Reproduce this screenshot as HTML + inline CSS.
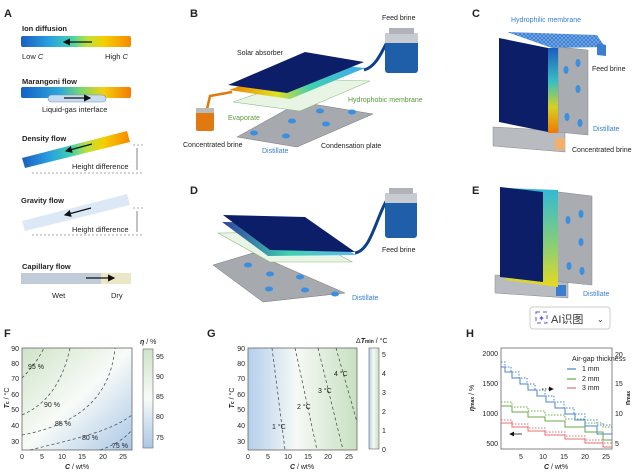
<!DOCTYPE html>
<html><head><meta charset="utf-8"><style>
body{margin:0;background:#fff;width:640px;height:476px;overflow:hidden}
svg{display:block;font-family:"Liberation Sans",Arial,sans-serif}
.b{font-weight:bold}
</style></head><body>
<svg width="640" height="476" viewBox="0 0 640 476" xmlns="http://www.w3.org/2000/svg">
<defs>
<linearGradient id="rb" x1="0" x2="1"><stop offset="0" stop-color="#1a5fc0"/><stop offset=".25" stop-color="#2a9ee0"/><stop offset=".45" stop-color="#3dd0b0"/><stop offset=".6" stop-color="#b8e040"/><stop offset=".75" stop-color="#f5d000"/><stop offset="1" stop-color="#f58a00"/></linearGradient>
<linearGradient id="rb2" x1="0" x2="1"><stop offset="0" stop-color="#1560c8"/><stop offset=".35" stop-color="#2ca8d8"/><stop offset=".55" stop-color="#7ad86a"/><stop offset=".75" stop-color="#f2d010"/><stop offset="1" stop-color="#f57a00"/></linearGradient>
<linearGradient id="vg" x1="0" y1="0" x2="0" y2="1"><stop offset="0" stop-color="#1c5cc0"/><stop offset=".4" stop-color="#39c0c0"/><stop offset=".7" stop-color="#d8d020"/><stop offset="1" stop-color="#f07800"/></linearGradient>
<linearGradient id="vg2" x1="0" y1="0" x2="0" y2="1"><stop offset="0" stop-color="#30b8d8"/><stop offset=".6" stop-color="#8cd070"/><stop offset="1" stop-color="#e8d820"/></linearGradient>
<linearGradient id="fF" x1="0" y1="0" x2="1" y2="1"><stop offset="0" stop-color="#cfe3c8"/><stop offset=".5" stop-color="#f8fbf8"/><stop offset="1" stop-color="#aac7e6"/></linearGradient>
<linearGradient id="fG" x1="0" y1="0" x2="1" y2="0"><stop offset="0" stop-color="#b4cfec"/><stop offset=".45" stop-color="#f6f9f6"/><stop offset="1" stop-color="#c8e0c0"/></linearGradient>
<linearGradient id="cbF" x1="0" y1="0" x2="0" y2="1"><stop offset="0" stop-color="#cfe3c8"/><stop offset=".5" stop-color="#f8fbf8"/><stop offset="1" stop-color="#aac7e6"/></linearGradient>
<linearGradient id="pl" x1="0" y1="0" x2="1" y2="0"><stop offset="0" stop-color="#3040a0"/><stop offset=".5" stop-color="#40d0b0"/><stop offset="1" stop-color="#60b8f0"/></linearGradient>
<linearGradient id="plB" x1="0" y1="0" x2="1" y2="0"><stop offset="0" stop-color="#f08000"/><stop offset=".35" stop-color="#e0e020"/><stop offset=".6" stop-color="#40d0b0"/><stop offset="1" stop-color="#40a8f0"/></linearGradient>
<pattern id="mesh" width="4" height="4" patternUnits="userSpaceOnUse"><rect width="4" height="4" fill="#3b7ed0"/><path d="M0 0L4 4M4 0L0 4" stroke="#8ab8ee" stroke-width=".6"/></pattern>
<marker id="ah" markerWidth="6" markerHeight="6" refX="5" refY="3" orient="auto"><path d="M0 0L6 3L0 6z" fill="#111"/></marker>
</defs>

<!-- Panel A -->
<g font-size="7.5" fill="#222">
<text x="4" y="17" class="b" font-size="11">A</text>
<text x="22" y="31" class="b">Ion diffusion</text>
<rect x="21" y="36" width="110" height="11" rx="2" fill="url(#rb)"/>
<line x1="92" y1="42" x2="64" y2="42" stroke="#111" stroke-width="1.2" marker-end="url(#ah)"/>
<text x="22" y="59">Low <tspan font-style="italic">C</tspan></text><text x="105" y="59">High <tspan font-style="italic">C</tspan></text>
<text x="22" y="84" class="b">Marangoni flow</text>
<rect x="21" y="87" width="110" height="11" rx="2" fill="url(#rb2)"/>
<rect x="48" y="95" width="58" height="7" rx="3.5" fill="#c8dcf0" stroke="#6c90c0" stroke-width=".6"/>
<line x1="64" y1="98" x2="90" y2="98" stroke="#111" stroke-width="1.2" marker-end="url(#ah)"/>
<text x="42" y="112">Liquid-gas interface</text>
<text x="22" y="141" class="b">Density flow</text>
<polygon points="22,158 127,131 130,142 25,168" fill="url(#rb)"/>
<line x1="92" y1="144" x2="66" y2="151" stroke="#111" stroke-width="1.2" marker-end="url(#ah)"/>
<line x1="32" y1="173" x2="143" y2="173" stroke="#555" stroke-width=".6" stroke-dasharray="2,2"/>
<line x1="133" y1="145" x2="143" y2="145" stroke="#555" stroke-width=".6" stroke-dasharray="2,2"/>
<line x1="137" y1="148" x2="137" y2="170" stroke="#333" stroke-width=".6"/>
<text x="72" y="169">Height difference</text>
<text x="21" y="203" class="b">Gravity flow</text>
<polygon points="22,221 127,194 130,205 25,231" fill="#dde8f6"/>
<line x1="91" y1="208" x2="65" y2="215" stroke="#111" stroke-width="1.2" marker-end="url(#ah)"/>
<line x1="32" y1="235" x2="143" y2="235" stroke="#555" stroke-width=".6" stroke-dasharray="2,2"/>
<line x1="133" y1="208" x2="143" y2="208" stroke="#555" stroke-width=".6" stroke-dasharray="2,2"/>
<line x1="137" y1="211" x2="137" y2="232" stroke="#333" stroke-width=".6"/>
<text x="72" y="232">Height difference</text>
<text x="22" y="269" class="b">Capillary flow</text>
<rect x="21" y="273" width="80" height="11" fill="#c2ccd8"/>
<rect x="101" y="273" width="30" height="11" fill="#ece6c8"/>
<line x1="86" y1="278" x2="114" y2="278" stroke="#111" stroke-width="1.2" marker-end="url(#ah)"/>
<text x="52" y="298">Wet</text><text x="111" y="298">Dry</text>
</g>

<!-- Panel B -->
<g font-size="7" fill="#222">
<text x="190" y="17" class="b" font-size="11">B</text>
<polygon points="237,137 300,102 373,114 297,147" fill="#a6a9ae" stroke="#777" stroke-width=".5"/>
<g fill="#3a8fe0"><ellipse cx="254" cy="133" rx="4" ry="2.5"/><ellipse cx="286" cy="136" rx="4" ry="2.5"/><ellipse cx="292" cy="121" rx="4" ry="2.5"/><ellipse cx="326" cy="124" rx="4" ry="2.5"/><ellipse cx="320" cy="111" rx="4" ry="2.5"/><ellipse cx="352" cy="112" rx="4" ry="2.5"/></g>
<polygon points="233,102 300,79 370,81 300,111" fill="#e8f4e4" stroke="#8fba86" stroke-width=".6"/>
<polygon points="229,90 305,62 365,68 290,99" fill="url(#plB)"/>
<polygon points="228,85 305,52 364,62 287,93" fill="#0c1e68"/>
<path d="M364 70 C380 66 385 40 395 30" stroke="#0d3f8c" stroke-width="3" fill="none"/>
<path d="M232 92 L210 96 L205 118" stroke="#e07a10" stroke-width="2.5" fill="none"/>
<rect x="385" y="38" width="33" height="35" rx="3" fill="#1f5ea8"/><rect x="385" y="33" width="33" height="10" fill="#c8ccd2"/><rect x="389" y="28" width="25" height="6" fill="#b0b4ba"/>
<rect x="196" y="110" width="18" height="21" rx="2" fill="#e07a10"/><rect x="196" y="108" width="18" height="5" fill="#bbb"/>
<text x="237" y="55">Solar absorber</text>
<text x="382" y="20">Feed brine</text>
<text x="348" y="102" fill="#5a9a3a">Hydrophobic membrane</text>
<text x="228" y="120" fill="#5a9a3a">Evaporate</text>
<text x="183" y="147">Concentrated brine</text>
<text x="262" y="153" fill="#3a80d0">Distillate</text>
<text x="321" y="148">Condensation plate</text>
</g>

<!-- Panel C -->
<g font-size="7" fill="#222">
<text x="472" y="17" class="b" font-size="11">C</text>
<polygon points="493,127 565,131 565,152 493,146" fill="#b8bbc0" stroke="#888" stroke-width=".5"/>
<rect x="555" y="138" width="10" height="12" fill="#f0b070"/>
<polygon points="507,32 597,35 605,47 552,48" fill="url(#mesh)"/>
<polygon points="597,43 606,45 606,56 597,55" fill="#3b7ed0"/>
<polygon points="558,47 588,50 588,135 558,132" fill="#a9acb1" stroke="#888" stroke-width=".5"/>
<g fill="#3a8fe0"><ellipse cx="566" cy="70" rx="2.5" ry="4"/><ellipse cx="578" cy="63" rx="2.5" ry="4"/><ellipse cx="578" cy="89" rx="2.5" ry="4"/><ellipse cx="567" cy="117" rx="2.5" ry="4"/><ellipse cx="580" cy="123" rx="2.5" ry="4"/></g>
<rect x="548" y="48" width="10" height="85" fill="url(#vg)"/>
<polygon points="499,38 548,48 548,132 499,122" fill="#0c1e68"/>
<text x="511" y="22" fill="#3a80d0">Hydrophilic membrane</text>
<text x="592" y="71">Feed brine</text>
<text x="593" y="131" fill="#3a80d0">Distillate</text>
<text x="572" y="152">Concentrated brine</text>
</g>

<!-- Panel D -->
<g font-size="7" fill="#222">
<text x="190" y="194" class="b" font-size="11">D</text>
<polygon points="213,265 253,253 345,293 263,302" fill="#a6a9ae" stroke="#777" stroke-width=".5"/>
<g fill="#3a8fe0"><ellipse cx="248" cy="265" rx="4" ry="2.5"/><ellipse cx="270" cy="274" rx="4" ry="2.5"/><ellipse cx="300" cy="277" rx="4" ry="2.5"/><ellipse cx="269" cy="289" rx="4" ry="2.5"/><ellipse cx="305" cy="290" rx="4" ry="2.5"/><ellipse cx="335" cy="294" rx="4" ry="2.5"/></g>
<polygon points="218,233 298,232 352,262 270,262" fill="#e8f4e4" stroke="#8fba86" stroke-width=".6"/>
<polygon points="222,222 302,223 356,255 268,256" fill="url(#pl)"/>
<polygon points="223,215 305,217 355,252 270,250" fill="#0c1e68"/>
<path d="M355 253 C372 250 376 215 390 195" stroke="#0d3f8c" stroke-width="3" fill="none"/>
<rect x="385" y="198" width="32" height="40" rx="3" fill="#1f5ea8"/><rect x="385" y="193" width="32" height="10" fill="#c8ccd2"/><rect x="389" y="188" width="24" height="6" fill="#b0b4ba"/>
<text x="382" y="252">Feed brine</text>
<text x="352" y="300" fill="#3a80d0">Distillate</text>
</g>

<!-- Panel E -->
<g font-size="7" fill="#222">
<text x="472" y="194" class="b" font-size="11">E</text>
<polygon points="495,275 568,280 568,298 495,293" fill="#b8bbc0" stroke="#888" stroke-width=".5"/>
<rect x="556" y="285" width="10" height="11" fill="#3b7ed0"/>
<polygon points="542,190 592,196 592,285 542,280" fill="#a9acb1" stroke="#888" stroke-width=".5"/>
<g fill="#3a8fe0"><ellipse cx="568" cy="220" rx="2.5" ry="4"/><ellipse cx="581" cy="214" rx="2.5" ry="4"/><ellipse cx="581" cy="242" rx="2.5" ry="4"/><ellipse cx="569" cy="266" rx="2.5" ry="4"/><ellipse cx="582" cy="271" rx="2.5" ry="4"/></g>
<polygon points="505,188 558,190 558,287 505,280" fill="url(#vg2)"/>
<polygon points="500,187 543,192 543,282 500,277" fill="#0c1e68"/>
<text x="583" y="296" fill="#3a80d0">Distillate</text>
</g>
<g>
<rect x="530" y="307" width="80" height="22" rx="3" fill="#fff" stroke="#ccc"/>
<rect x="536" y="312" width="11" height="11" fill="none" stroke="#6a4de0" stroke-width="1" stroke-dasharray="4,3"/>
<text x="541.5" y="321" font-size="8" fill="#6a4de0" text-anchor="middle">✦</text>
<text x="551" y="323" font-size="11" fill="#333" font-family="'Liberation Sans','Noto Sans CJK SC',sans-serif">AI识图</text>
<text x="597" y="322" font-size="8" fill="#333">⌄</text>
</g>

<!-- Panel F -->
<g font-size="7" fill="#222">
<text x="4" y="337" class="b" font-size="11">F</text>
<rect x="22" y="348" width="110" height="102" fill="url(#fF)" stroke="#666" stroke-width=".8"/>
<g stroke="#555" stroke-width=".8" fill="none" stroke-dasharray="3,2.5">
<path d="M22 378 C30 370 38 360 44 348"/>
<path d="M22 415 C45 405 62 385 70 348"/>
<path d="M22 435 C75 425 110 400 115 348"/>
<path d="M30 450 C70 440 110 432 132 415"/>
<path d="M100 450 C115 445 125 438 132 430"/>
</g>
<text x="28" y="369">95 %</text><text x="44" y="407">90 %</text><text x="55" y="426">85 %</text><text x="82" y="440">80 %</text><text x="112" y="448">75 %</text>
<g text-anchor="end"><text x="19" y="351">90</text><text x="19" y="366">80</text><text x="19" y="381">70</text><text x="19" y="397">60</text><text x="19" y="412">50</text><text x="19" y="428">40</text><text x="19" y="444">30</text></g>
<g text-anchor="middle"><text x="22" y="459">0</text><text x="42" y="459">5</text><text x="62" y="459">10</text><text x="82" y="459">15</text><text x="103" y="459">20</text><text x="123" y="459">25</text></g>
<text x="77" y="469" text-anchor="middle"><tspan font-style="italic" font-weight="bold">C</tspan> / wt%</text>
<text transform="translate(9,398) rotate(-90)" text-anchor="middle"><tspan font-style="italic" font-weight="bold">T</tspan><tspan font-size="5" font-weight="bold">c</tspan> / °C</text>
<rect x="143" y="349" width="10" height="99" fill="url(#cbF)" stroke="#666" stroke-width=".6"/>
<text x="140" y="344" font-style="italic" font-weight="bold">η <tspan font-style="normal" font-weight="normal">/ %</tspan></text>
<g><text x="156" y="359">95</text><text x="156" y="379">90</text><text x="156" y="399">85</text><text x="156" y="419">80</text><text x="156" y="440">75</text></g>
</g>

<!-- Panel G -->
<g font-size="7" fill="#222">
<text x="207" y="337" class="b" font-size="11">G</text>
<rect x="248" y="348" width="109" height="102" fill="url(#fG)" stroke="#666" stroke-width=".8"/>
<g stroke="#555" stroke-width=".8" fill="none" stroke-dasharray="3,2.5">
<path d="M272 348 L285 450"/><path d="M295 348 L317 450"/><path d="M318 348 L343 450"/><path d="M336 348 L357 422"/>
</g>
<text x="272" y="429">1 °C</text><text x="297" y="409">2 °C</text><text x="318" y="393">3 °C</text><text x="334" y="376">4 °C</text>
<g text-anchor="end"><text x="245" y="351">90</text><text x="245" y="366">80</text><text x="245" y="381">70</text><text x="245" y="397">60</text><text x="245" y="412">50</text><text x="245" y="428">40</text><text x="245" y="444">30</text></g>
<g text-anchor="middle"><text x="248" y="459">0</text><text x="268" y="459">5</text><text x="288" y="459">10</text><text x="308" y="459">15</text><text x="328" y="459">20</text><text x="349" y="459">25</text></g>
<text x="302" y="469" text-anchor="middle"><tspan font-style="italic" font-weight="bold">C</tspan> / wt%</text>
<text transform="translate(234,398) rotate(-90)" text-anchor="middle"><tspan font-style="italic" font-weight="bold">T</tspan><tspan font-size="5" font-weight="bold">c</tspan> / °C</text>
<rect x="369" y="348" width="10" height="101" fill="url(#fG)" transform="rotate(0)" stroke="#666" stroke-width=".6"/>
<text x="356" y="343">Δ<tspan font-style="italic" font-weight="bold">T</tspan><tspan font-size="5" font-weight="bold">min</tspan> / °C</text>
<g><text x="382" y="357">5</text><text x="382" y="376">4</text><text x="382" y="395">3</text><text x="382" y="414">2</text><text x="382" y="433">1</text><text x="382" y="452">0</text></g>
</g>

<!-- Panel H -->
<g font-size="7" fill="#222">
<text x="466" y="337" class="b" font-size="11">H</text>
<rect x="501" y="348" width="111" height="101" fill="#fff" stroke="#666" stroke-width=".8"/>
<g fill="none" stroke-width="1">
<path stroke="#4a86cc" d="M501 362 H505 V367 H511 V372 H519 V378 H527 V384 H535 V390 H545 V396 H554 V402 H564 V408 H574 V414 H585 V420 H597 V425 H612" stroke-dasharray="1.5,1.5"/>
<path stroke="#4a86cc" d="M501 367 H505 V372 H512 V378 H520 V384 H528 V390 H537 V396 H546 V402 H555 V408 H565 V414 H575 V420 H585 V426 H597 V434 H612"/>
<path stroke="#6aa84a" d="M501 402 H512 V407 H528 V411 H545 V415 H565 V419 H585 V423 H603 V427 H612" stroke-dasharray="1.5,1.5"/>
<path stroke="#6aa84a" d="M501 406 H512 V412 H528 V417 H545 V421 H565 V427 H585 V432 H603 V440 H612"/>
<path stroke="#e07070" d="M501 420 H512 V424 H528 V428 H545 V432 H565 V436 H585 V440 H603 V443 H612" stroke-dasharray="1.5,1.5"/>
<path stroke="#e07070" d="M501 423 H512 V427 H528 V431 H545 V435 H565 V439 H585 V443 H603 V447 H612"/>
</g>
<text x="572" y="361">Air-gap thickness</text>
<line x1="567" y1="369" x2="576" y2="369" stroke="#4a86cc" stroke-width="1.2"/><text x="582" y="371">1 mm</text>
<line x1="567" y1="379" x2="576" y2="379" stroke="#6aa84a" stroke-width="1.2"/><text x="582" y="381">2 mm</text>
<line x1="567" y1="388" x2="576" y2="388" stroke="#e07070" stroke-width="1.2"/><text x="582" y="390">3 mm</text>
<line x1="542" y1="389" x2="553" y2="389" stroke="#111" stroke-width=".8" stroke-dasharray="1.5,1.5" marker-end="url(#ah)"/>
<line x1="522" y1="434" x2="510" y2="434" stroke="#111" stroke-width=".8" marker-end="url(#ah)"/>
<g text-anchor="end"><text x="498" y="356">2000</text><text x="498" y="386">1500</text><text x="498" y="416">1000</text><text x="498" y="446">500</text></g>
<g><text x="615" y="357">20</text><text x="615" y="386">15</text><text x="615" y="416">10</text><text x="615" y="446">5</text></g>
<g text-anchor="middle"><text x="521" y="459">5</text><text x="543" y="459">10</text><text x="564" y="459">15</text><text x="585" y="459">20</text><text x="606" y="459">25</text></g>
<text x="556" y="469" text-anchor="middle"><tspan font-style="italic" font-weight="bold">C</tspan> / wt%</text>
<text transform="translate(474,398) rotate(-90)" text-anchor="middle"><tspan font-style="italic" font-weight="bold">η</tspan><tspan font-size="5" font-weight="bold">max</tspan> / %</text>
<text transform="translate(630,398) rotate(-90)" text-anchor="middle"><tspan font-weight="bold">n</tspan><tspan font-size="5" font-weight="bold">max</tspan></text>
</g>
</svg>
</body></html>
